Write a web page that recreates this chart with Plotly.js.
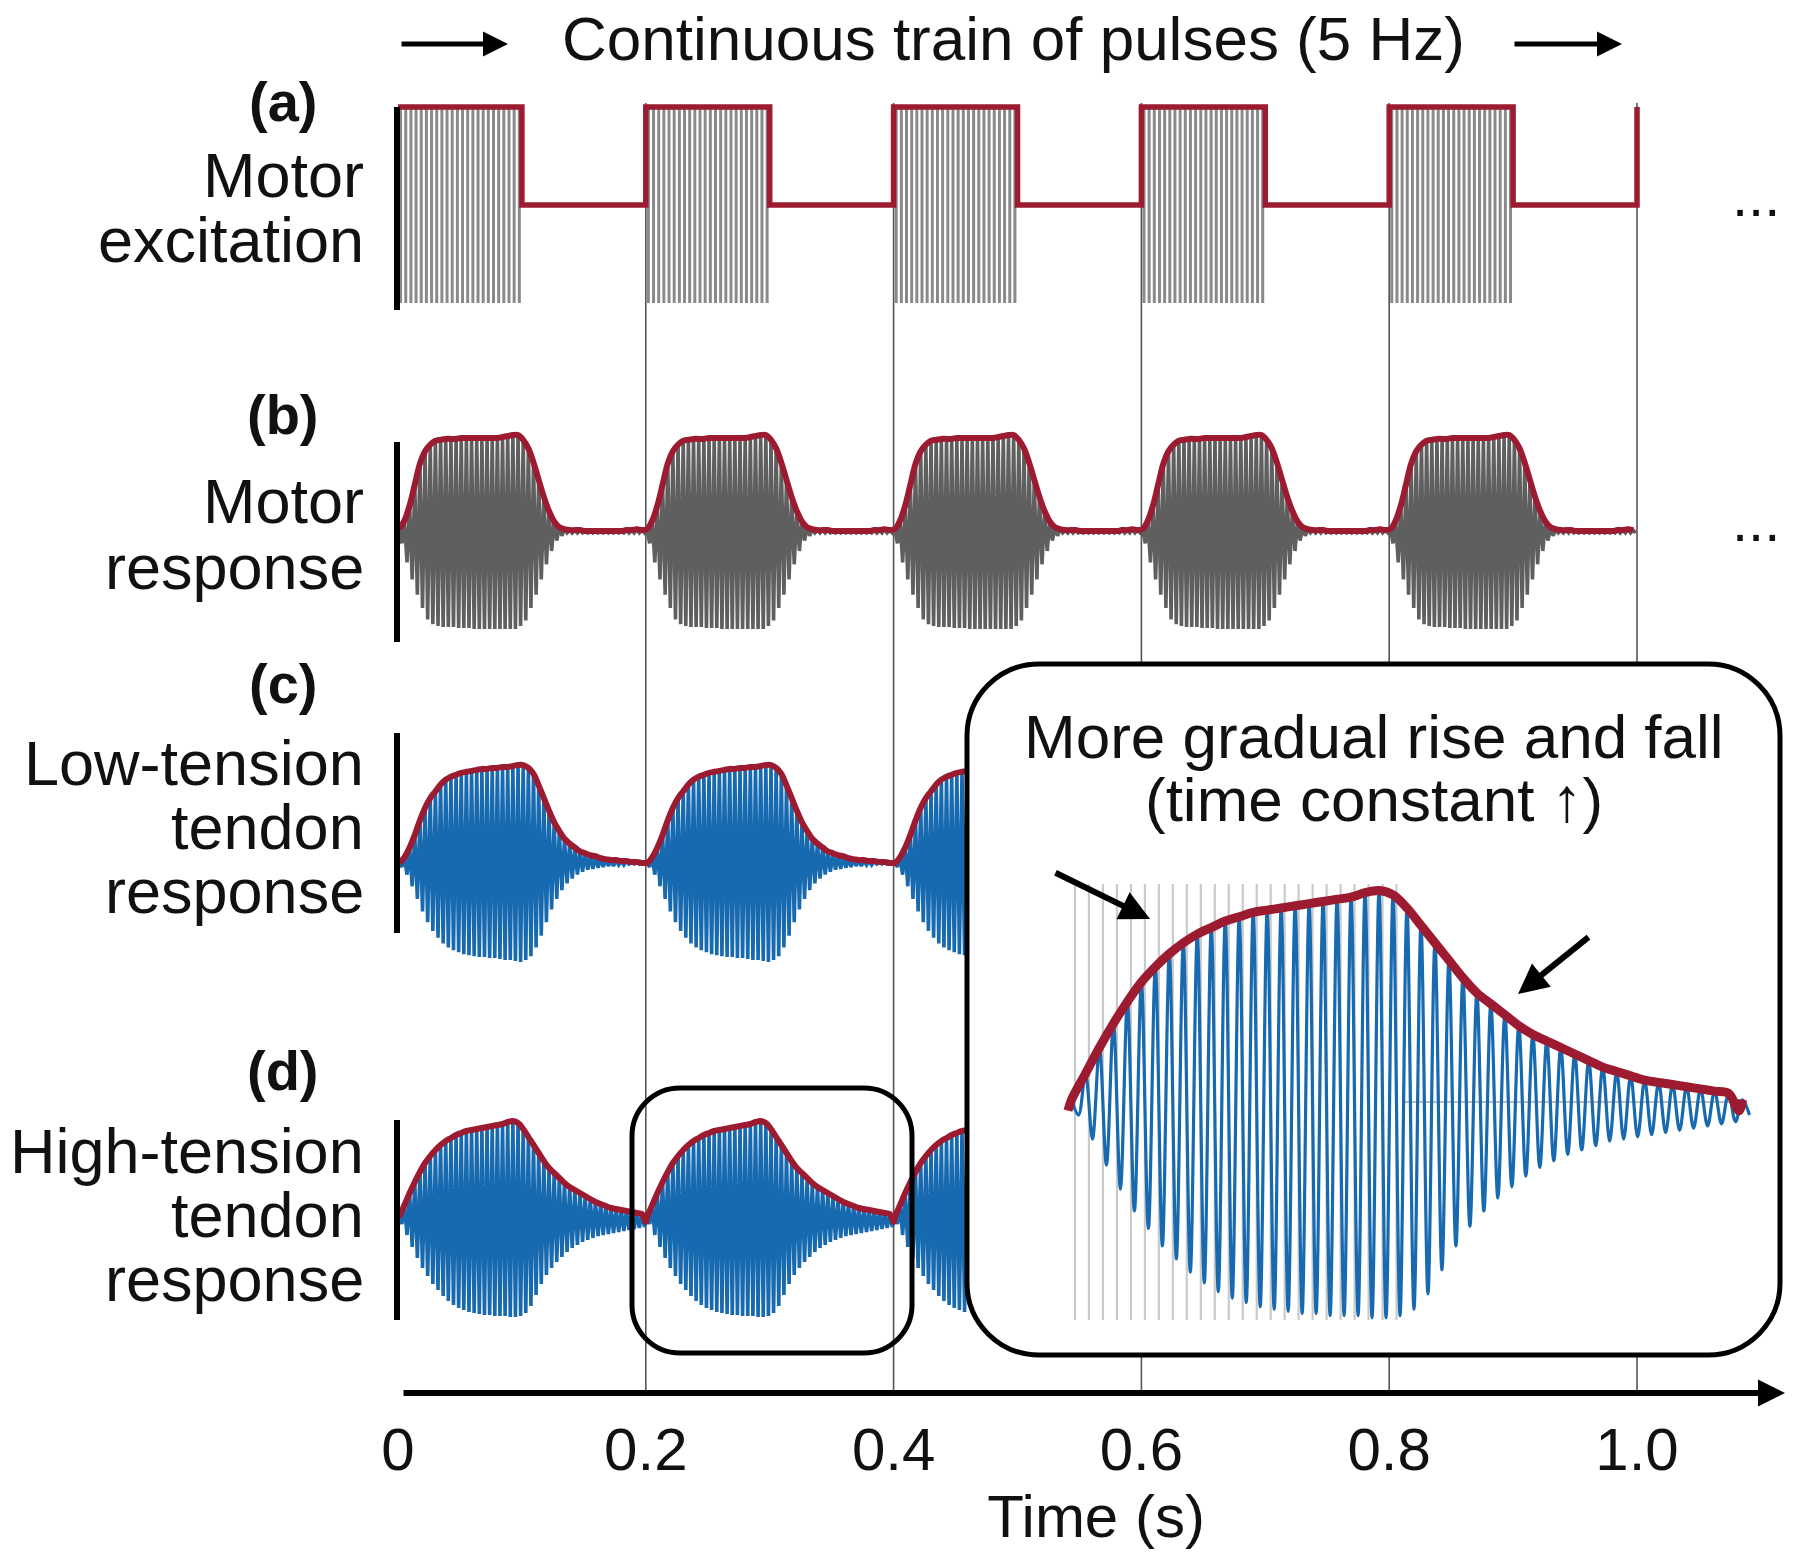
<!DOCTYPE html>
<html><head><meta charset="utf-8">
<script src="https://cdn.plot.ly/plotly-3.0.1.min.js"></script>
<style>html,body{margin:0;padding:0;background:#fff}#chart{width:1800px;height:1559px}</style>
</head><body><div id="chart"></div>
<script>
// ---------------- data ----------------
const periodStarts = [0, 0.2, 0.4, 0.6, 0.8];   // 5 Hz train of pulses
const trainEnd = 1.0;
const pulseOn = 0.1;                              // s of stimulation per period
const carrierHz = 240;                            // carrier cycles per second (one value per cycle below)
// one period (0-0.2 s), one value per carrier cycle
const excitation = [1,1,1,1,1,1,1,1,1,1,1,1,1,1,1,1,1,1,1,1,1,1,1,1,
                    0,0,0,0,0,0,0,0,0,0,0,0,0,0,0,0,0,0,0,0,0,0,0,0];
const motorUpper = [0.03,0.12,0.28,0.50,0.72,0.85,0.92,0.96,0.97,0.98,
                    0.98,0.98,0.99,0.99,0.99,0.99,0.99,0.99,0.99,0.99,
                    1.00,1.01,1.02,1.02,0.97,0.88,0.73,0.55,0.37,0.22,
                    0.11,0.05,0.03,0.02,0.02,0.02,0.01,0.01,0.01,0.01,
                    0.01,0.01,0.01,0.01,0.02,0.02,0.03,0.02];
const motorLower = [0.12,0.32,0.50,0.66,0.80,0.92,0.97,0.99,1.00,1.00,
                    1.00,1.01,1.01,1.01,1.02,1.02,1.02,1.02,1.02,1.02,
                    1.02,1.02,1.02,0.99,0.93,0.80,0.66,0.50,0.34,0.20,
                    0.09,0.04,0.01,0.01,0.01,0.01,0.01,0.01,0.01,0.01,
                    0.01,0.01,0.01,0.01,0.01,0.01,0.01,0.01];
const lowUpper   = [0.00,0.06,0.16,0.29,0.44,0.57,0.67,0.74,0.81,0.86,
                    0.89,0.91,0.93,0.94,0.95,0.96,0.97,0.97,0.98,0.98,
                    0.99,0.99,1.00,1.01,1.01,0.98,0.92,0.80,0.67,0.54,
                    0.42,0.33,0.25,0.20,0.16,0.12,0.10,0.08,0.07,0.05,
                    0.04,0.03,0.03,0.02,0.02,0.01,0.01,0.00];
const lowLower   = [0.04,0.12,0.24,0.37,0.50,0.61,0.70,0.77,0.83,0.87,
                    0.90,0.92,0.94,0.95,0.96,0.97,0.97,0.98,0.98,0.99,
                    1.00,1.00,1.01,1.02,1.00,0.96,0.87,0.75,0.61,0.48,
                    0.37,0.28,0.21,0.16,0.12,0.09,0.07,0.06,0.05,0.04,
                    0.03,0.03,0.02,0.02,0.01,0.01,0.01,0.01];
const highUpper  = [0.01,0.13,0.25,0.36,0.46,0.55,0.62,0.68,0.73,0.77,
                    0.80,0.83,0.85,0.87,0.88,0.89,0.90,0.91,0.92,0.93,
                    0.94,0.96,0.97,0.95,0.89,0.81,0.73,0.65,0.57,0.50,
                    0.45,0.40,0.35,0.31,0.28,0.25,0.22,0.19,0.16,0.14,
                    0.12,0.10,0.09,0.08,0.07,0.06,0.05,0.04];
const highLower  = [0.06,0.17,0.29,0.40,0.50,0.58,0.66,0.72,0.78,0.83,
                    0.87,0.90,0.92,0.94,0.95,0.96,0.97,0.97,0.98,0.98,
                    0.98,0.99,0.99,0.98,0.95,0.88,0.77,0.66,0.57,0.50,
                    0.44,0.39,0.34,0.30,0.27,0.24,0.22,0.20,0.18,0.17,
                    0.16,0.15,0.14,0.13,0.12,0.11,0.10,0.09];
const highEnvelopeDip = -0.04;                    // envelope value at the end of each period (panel d)
const insetWindow = [0.2, 0.4];                   // zoomed window of panel (d)
const tickVals = [0, 0.2, 0.4, 0.6, 0.8, 1.0];
const tickText = ['0', '0.2', '0.4', '0.6', '0.8', '1.0'];
const panelTags = ['(a)', '(b)', '(c)', '(d)'];
const panelNames = [['Motor', 'excitation'], ['Motor', 'response'],
                    ['Low-tension', 'tendon', 'response'], ['High-tension', 'tendon', 'response']];
const titleText = 'Continuous train of pulses (5 Hz)';
const insetText = ['More gradual rise and fall', '(time constant \u2191)'];
const axisTitle = 'Time (s)';

// ---------------- builders ----------------
const W = 1800, H = 1559;
const FONT = '"Liberation Sans", Arial, Helvetica, sans-serif';
const RED = '#9c1b31', BLUE = '#1769b0', DARKGRAY = '#5f5f5f', PULSEGRAY = '#8a8a8a';
const PX_PER_S = 1239, T0_PX = 398;

function carrierSeries(upper, lower, t0, t1) {
  const x = [], y = [];
  periodStarts.forEach(p0 => upper.forEach((u, k) => {
    const tu = p0 + (k + 0.25) / carrierHz, tl = p0 + (k + 0.75) / carrierHz;
    if (tu >= t0 && tu <= t1) { x.push(tu); y.push(u); }
    if (tl >= t0 && tl <= t1) { x.push(tl); y.push(-lower[k]); }
  }));
  return {x, y};
}
function envelopeSeries(upper, endVal, t0, t1) {
  const x = [], y = [];
  periodStarts.forEach(p0 => {
    upper.forEach((u, k) => {
      const t = p0 + (k + 0.25) / carrierHz;
      if (t >= t0 && t <= t1) { x.push(t); y.push(u); }
    });
    if (endVal !== null) {
      const te = p0 + 0.2;
      if (te >= t0 && te <= t1) { x.push(te); y.push(endVal); }
    }
  });
  return {x, y};
}
function pulseSeries(t0, t1) {
  const x = [], y = [];
  periodStarts.forEach(p0 => excitation.forEach((a, k) => {
    const t = p0 + (k + 0.5) / carrierHz;
    if (a > 0 && t >= t0 && t <= t1) { x.push(t, t, null); y.push(a, -a, null); }
  }));
  return {x, y};
}
function restSeries(t0, t1) {
  const x = [], y = [];
  periodStarts.forEach(p0 => {
    const a = Math.max(p0 + pulseOn, t0), b = Math.min(p0 + 0.2, t1);
    if (b > a) { x.push(a, b, null); y.push(0, 0, null); }
  });
  return {x, y};
}
function squareSeries() {
  const x = [], y = [];
  const hi = Math.max(...excitation);
  periodStarts.forEach(p0 => { x.push(p0, p0 + pulseOn); y.push(hi, 0); });
  x.push(trainEnd); y.push(hi);
  return {x, y};
}
function line(s, xa, ya, color, width, shape) {
  return {type: 'scatter', mode: 'lines', x: s.x, y: s.y, xaxis: xa, yaxis: ya,
          line: {color: color, width: width, shape: shape || 'linear', smoothing: 1},
          hoverinfo: 'skip', showlegend: false, connectgaps: false};
}

const TMAX = trainEnd + 0.01;
const insetT1 = insetWindow[1] + 0.0035;
const traces = [
  // (a) motor excitation
  line(pulseSeries(0, TMAX), 'x', 'y', PULSEGRAY, 3),
  line(restSeries(0, TMAX), 'x', 'y', PULSEGRAY, 1.5),
  line(squareSeries(), 'x', 'y', RED, 5.5, 'hv'),
  // (b) motor response
  line(carrierSeries(motorUpper, motorLower, 0, TMAX), 'x', 'y2', DARKGRAY, 3.6),
  line(envelopeSeries(motorUpper, null, 0, trainEnd), 'x', 'y2', RED, 6, 'spline'),
  // (c) low tension tendon
  line(carrierSeries(lowUpper, lowLower, 0, TMAX), 'x3', 'y3', BLUE, 3.6),
  line(envelopeSeries(lowUpper, 0, 0, trainEnd), 'x3', 'y3', RED, 6, 'spline'),
  // (d) high tension tendon
  line(carrierSeries(highUpper, highLower, 0, TMAX), 'x3', 'y4', BLUE, 3.6),
  line(envelopeSeries(highUpper, highEnvelopeDip, 0, trainEnd), 'x3', 'y4', RED, 6, 'spline'),
  // inset: zoom of (d) over one period
  line(pulseSeries(insetWindow[0], insetWindow[1]), 'x2', 'y5', '#cacaca', 2.2),
  line(restSeries(insetWindow[0], insetWindow[1]), 'x2', 'y5', '#a9a9a9', 1.5),
  line(carrierSeries(highUpper, highLower, insetWindow[0], insetT1), 'x2', 'y5', BLUE, 3.2, 'spline'),
  line(envelopeSeries(highUpper, highEnvelopeDip, insetWindow[0], insetT1), 'x2', 'y5', RED, 9, 'spline'),
  // time axis carrier (invisible)
  {type: 'scatter', mode: 'markers', x: tickVals, y: tickVals.map(() => 0), xaxis: 'x4', yaxis: 'y',
   marker: {opacity: 0}, hoverinfo: 'skip', showlegend: false}
];

// ---------------- geometry ----------------
function yAxis(centerPx, ampPx, lo, hi) {
  return {domain: [1 - (centerPx - lo * ampPx) / H, 1 - (centerPx - hi * ampPx) / H],
          range: [lo, hi], visible: false, fixedrange: true};
}
function xAxis(d0Px, d1Px, tAtPx, pxPerS, tRef) {
  return {domain: [d0Px / W, d1Px / W],
          range: [tRef - (tAtPx - d0Px) / pxPerS, tRef + (d1Px - tAtPx) / pxPerS],
          visible: false, fixedrange: true};
}
const BOX = {x0: 967, y0: 664, x1: 1780, y1: 1355, r: 72};
const SMALL = {x0: 632, y0: 1088, x1: 912, y1: 1353, r: 48};
const insetCenter = 1102, insetAmp = 218;
const insetPxPerS = (1739 - 1068) / (insetWindow[1] - insetWindow[0]);

function roundRect(b) {
  const k = 0.5523 * b.r, X = v => (v / W).toFixed(5), Y = v => (1 - v / H).toFixed(5);
  const {x0, y0, x1, y1, r} = b;
  return `M${X(x0 + r)},${Y(y0)} L${X(x1 - r)},${Y(y0)} ` +
    `C${X(x1 - r + k)},${Y(y0)} ${X(x1)},${Y(y0 + r - k)} ${X(x1)},${Y(y0 + r)} ` +
    `L${X(x1)},${Y(y1 - r)} C${X(x1)},${Y(y1 - r + k)} ${X(x1 - r + k)},${Y(y1)} ${X(x1 - r)},${Y(y1)} ` +
    `L${X(x0 + r)},${Y(y1)} C${X(x0 + r - k)},${Y(y1)} ${X(x0)},${Y(y1 - r + k)} ${X(x0)},${Y(y1 - r)} ` +
    `L${X(x0)},${Y(y0 + r)} C${X(x0)},${Y(y0 + r - k)} ${X(x0 + r - k)},${Y(y0)} ${X(x0 + r)},${Y(y0)} Z`;
}

const shapes = [];
// vertical guide lines
tickVals.slice(1).forEach(t => {
  const xp = T0_PX + t * PX_PER_S;
  const segs = (xp > BOX.x0 && xp < BOX.x1) ? [[103, BOX.y0], [BOX.y1, 1393]] : [[103, 1393]];
  segs.forEach(s => shapes.push({type: 'line', xref: 'x', yref: 'paper', x0: t, x1: t,
    y0: 1 - s[0] / H, y1: 1 - s[1] / H, line: {color: '#555', width: 1.6}, layer: 'below'}));
});
// scale bars
[[107, 310], [442, 642], [733, 933], [1120, 1320]].forEach(b => shapes.push({
  type: 'line', xref: 'paper', yref: 'paper', x0: 397 / W, x1: 397 / W, y0: 1 - b[0] / H, y1: 1 - b[1] / H,
  line: {color: '#000', width: 6}, layer: 'above'}));
shapes.push({type: 'path', xref: 'paper', yref: 'paper', path: roundRect(SMALL),
  line: {color: '#000', width: 5}, fillcolor: 'rgba(0,0,0,0)', layer: 'above'});
shapes.push({type: 'path', xref: 'paper', yref: 'paper', path: roundRect(BOX),
  line: {color: '#000', width: 5}, fillcolor: 'rgba(0,0,0,0)', layer: 'above'});

// ---------------- text ----------------
function textAnn(text, xPx, basePx, size, anchor) {
  return {text: text, xref: 'paper', yref: 'paper', x: xPx / W, y: 1 - (basePx - 0.3465 * size) / H,
          xanchor: anchor, yanchor: 'middle', showarrow: false, borderpad: 0,
          font: {family: FONT, size: size, color: '#111'}};
}
function arrowAnn(hx, hy, tx, ty, width, size) {
  return {text: '', xref: 'paper', yref: 'paper', x: hx / W, y: 1 - hy / H, axref: 'pixel', ayref: 'pixel',
          ax: tx - hx, ay: ty - hy, showarrow: true, arrowhead: 2, arrowsize: size, arrowwidth: width,
          arrowcolor: '#000', standoff: 0, startstandoff: 0};
}
const annotations = [];
annotations.push(textAnn(titleText, 1013, 60, 62, 'center'));
annotations.push(arrowAnn(508, 44, 400, 44, 5, 1.0));
annotations.push(arrowAnn(1622, 44, 1513, 44, 5, 1.0));
const tagBase = [121, 434, 703, 1090];
panelTags.forEach((t, i) => annotations.push(textAnn('<b>' + t + '</b>', 283, tagBase[i], 56, 'center')));
const nameBase = [[197, 262], [523, 589], [785, 849], [1173, 1237]];
const nameBase3 = [null, null, 913, 1301];
panelNames.forEach((lines, i) => lines.forEach((s, j) => {
  const b = j < 2 ? nameBase[i][j] : nameBase3[i];
  annotations.push(textAnn(s, 365, b, 63, 'right'));
}));
annotations.push(textAnn('...', 1756, 216, 58, 'center'));
annotations.push(textAnn('...', 1756, 541, 58, 'center'));
annotations.push(textAnn(insetText[0], 1374, 758, 62, 'center'));
annotations.push(textAnn(insetText[1], 1374, 821, 62, 'center'));
annotations.push(arrowAnn(1150, 919, 1054, 872, 6, 1.0));
annotations.push(arrowAnn(1518, 994, 1590, 936, 6, 1.0));
annotations.push(arrowAnn(1785, 1393, 402, 1393, 6, 0.9));

const layout = {
  width: W, height: H, margin: {l: 0, r: 0, t: 0, b: 0, pad: 0},
  paper_bgcolor: '#fff', plot_bgcolor: 'rgba(0,0,0,0)', showlegend: false,
  font: {family: FONT, color: '#111'},
  xaxis: xAxis(0, W, T0_PX, PX_PER_S, 0),
  xaxis3: xAxis(0, BOX.x0, T0_PX, PX_PER_S, 0),
  xaxis2: xAxis(BOX.x0, BOX.x1, 1068, insetPxPerS, insetWindow[0]),
  xaxis4: {domain: [T0_PX / W, 1794 / W], range: [0, (1794 - T0_PX) / PX_PER_S], anchor: 'free',
           position: 1 - 1393 / H, showgrid: false, zeroline: false, showline: false, ticks: '',
           tickmode: 'array', tickvals: tickVals, ticktext: tickText, ticklabelstandoff: 16,
           tickfont: {family: FONT, size: 60, color: '#111'}, fixedrange: true, automargin: false,
           title: {text: axisTitle, standoff: 0, font: {family: FONT, size: 60, color: '#111'}}},
  yaxis: yAxis(205, 98, -1.4, 1.4),
  yaxis2: yAxis(532, 95, -1.4, 1.4),
  yaxis3: yAxis(863, 97, -1.4, 1.4),
  yaxis4: yAxis(1218, 100, -1.4, 1.4),
  yaxis5: yAxis(insetCenter, insetAmp, -(BOX.y1 - insetCenter) / insetAmp, (insetCenter - BOX.y0) / insetAmp),
  shapes: shapes, annotations: annotations
};
Plotly.newPlot('chart', traces, layout, {staticPlot: true, displayModeBar: false});
</script></body></html>
